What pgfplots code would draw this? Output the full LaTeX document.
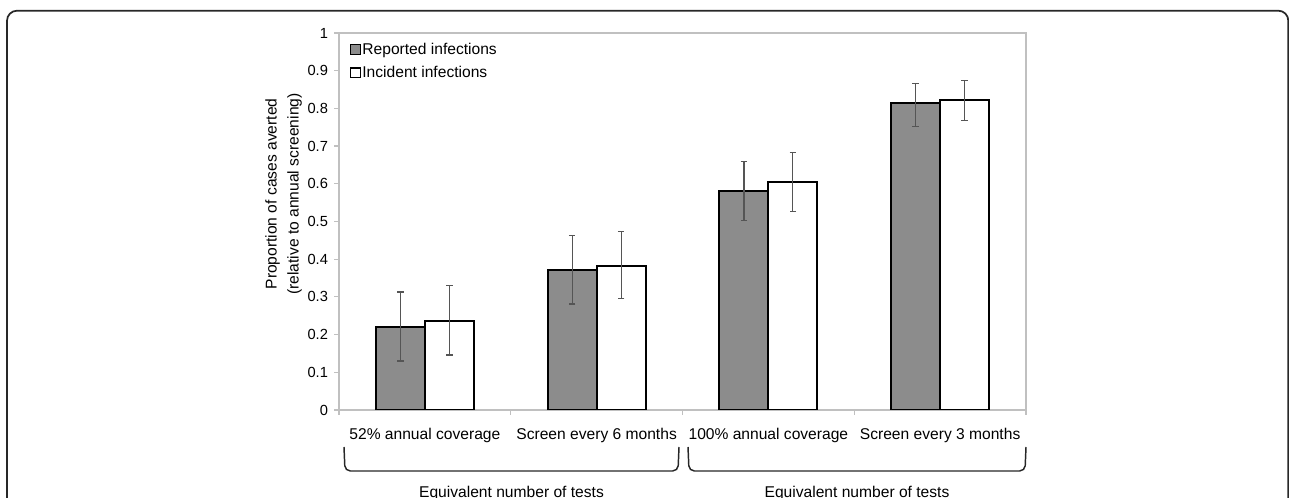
\documentclass[border=0pt]{standalone}
\usepackage{fontspec}
\setmainfont{Liberation Sans}
\usepackage{pgfplots}
\pgfplotsset{compat=1.18}
\definecolor{barg}{RGB}{140,140,140}
\definecolor{axgray}{RGB}{192,192,192}
\definecolor{errgray}{RGB}{85,85,85}
\definecolor{frame}{RGB}{40,40,40}
\begin{document}
\begin{tikzpicture}[x=0.75pt,y=0.75pt]
\useasboundingbox (0,0) rectangle (1289,498);
\clip (0,0) rectangle (1289,498);
% outer frame
\draw[line width=1.3pt, frame, rounded corners=7.5pt] (7,-40) -- (7,487.3) -- (1288.3,487.3) -- (1288.3,-40);
\begin{axis}[
  at={(254.25pt,66pt)}, anchor=south west, scale only axis,
  width=515.25pt, height=282.75pt,
  xmin=-0.5, xmax=3.5, ymin=0, ymax=1,
  axis line style={axgray, line width=0.9pt},
  ybar, bar width=0.285,
  xtick={0,1,2,3},
  xticklabels={52\% annual coverage, Screen every 6 months, 100\% annual coverage, Screen every 3 months},
  major x tick style={draw=none},
  minor xtick={-0.5,0.5,1.5,2.5,3.5},
  ytick={0,0.1,0.2,0.3,0.4,0.5,0.6,0.7,0.8,0.9,1},
  tick align=outside, tick pos=left,
  major tick length=3.75pt, minor tick length=3.75pt,
  every tick/.style={axgray, line width=0.9pt},
  /pgf/number format/assume math mode=true,
  /pgf/number format/.cd, fixed, precision=1, /pgfplots/.cd,
  yticklabel style={font=\fontsize{11}{13}\selectfont, xshift=-1pt},
  xticklabel style={font=\fontsize{11.7}{14}\selectfont, yshift=-6pt},
  ylabel={Proportion of cases averted\\(relative to annual screening)},
  ylabel style={align=center, font=\fontsize{11.7}{16.5}\selectfont, at={(ticklabel cs:0.573)}, yshift=-2.5pt},
  legend style={at={(0.016,0.978)}, anchor=north west, draw=none, fill=none,
    font=\fontsize{11.7}{14}\selectfont, row sep=5.5pt, inner sep=0pt,
    nodes={inner sep=1pt}},
  legend cell align=left,
  error bars/y dir=both, error bars/y explicit,
  error bars/error bar style={errgray, line width=0.9pt},
  error bars/error mark options={rotate=90, errgray, mark size=2.4pt, line width=0.9pt},
]
\addplot[fill=barg, draw=black, line width=1.5pt, bar shift=0pt,
  legend image code/.code={\draw[fill=barg, draw=black, line width=0.9pt] (0pt,-3.6pt) rectangle (7.2pt,3.6pt);}]
  coordinates {
  (-0.1425,0.220) += (0,0.093) -= (0,0.090)
  (0.8575,0.371) += (0,0.091) -= (0,0.090)
  (1.8575,0.581) += (0,0.078) -= (0,0.079)
  (2.8575,0.813) += (0,0.054) -= (0,0.060)
  };
\addlegendentry{Reported infections}
\addplot[fill=white, draw=black, line width=1.5pt, bar shift=0pt,
  legend image code/.code={\draw[fill=white, draw=black, line width=0.9pt] (0pt,-3.6pt) rectangle (7.2pt,3.6pt);}]
  coordinates {
  (0.1425,0.236) += (0,0.094) -= (0,0.090)
  (1.1425,0.383) += (0,0.090) -= (0,0.087)
  (2.1425,0.605) += (0,0.078) -= (0,0.078)
  (3.1425,0.822) += (0,0.053) -= (0,0.055)
  };
\addlegendentry{Incident infections}
\end{axis}
% braces
\draw[line width=1.1pt, black!85, rounded corners=4pt] (344,51) -- (345,27) -- (678,27) -- (679,51);
\draw[line width=1.1pt, black!85, rounded corners=4pt] (688,51) -- (689,27) -- (1025,27) -- (1026,51);
\node[anchor=base, font=\fontsize{11.7}{14}\selectfont, inner sep=0pt] at (511.5,0.5) {Equivalent number of tests};
\node[anchor=base, font=\fontsize{11.7}{14}\selectfont, inner sep=0pt] at (857,0.5) {Equivalent number of tests};
\end{tikzpicture}
\end{document}
